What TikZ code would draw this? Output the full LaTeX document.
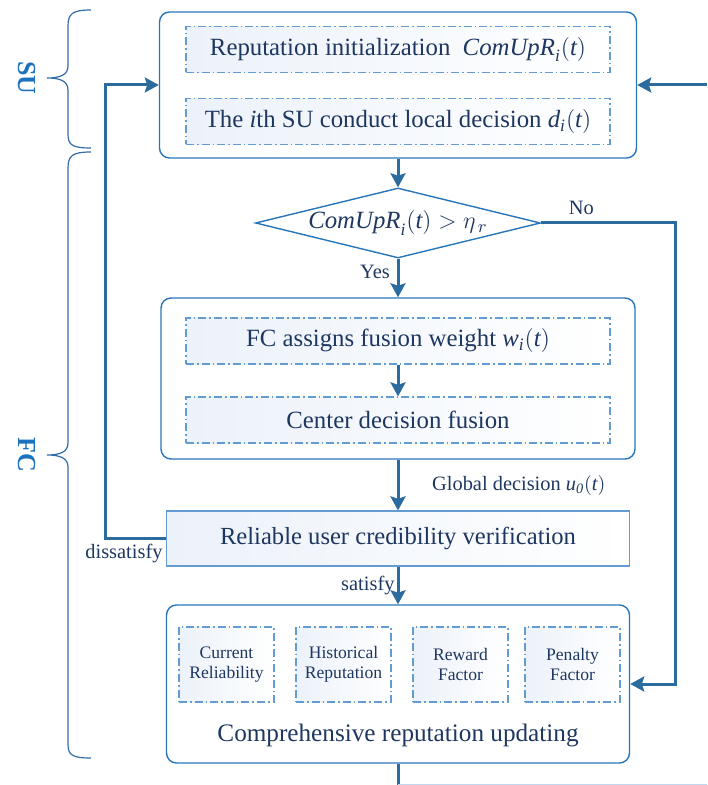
\documentclass[tikz,border=0pt]{standalone}
\usepackage{amsmath}
\usepackage{fontspec}
\setmainfont{Liberation Serif}
\usetikzlibrary{arrows,arrows.meta,shapes.geometric,positioning}

\definecolor{linec}{RGB}{44,107,158}
\definecolor{boxc}{RGB}{40,118,186}
\definecolor{dashc}{RGB}{98,156,210}
\definecolor{txtc}{RGB}{30,55,96}
\definecolor{fillc}{RGB}{236,242,250}
\definecolor{bracec}{RGB}{52,108,168}
\definecolor{groupc}{RGB}{28,114,190}

\newcommand{\mi}[1]{\mathit{#1}}

\tikzset{
  outerbox/.style={draw=boxc, line width=0.7pt, rounded corners=5pt},
  innerbox/.style={draw=dashc, line width=0.6pt, dash pattern=on 4pt off 1.5pt on 0.8pt off 1.5pt,
    left color=fillc, right color=white, minimum width=212pt, minimum height=23pt,
    text=txtc, font=\fontsize{12.4}{14}\selectfont},
  factorbox/.style={draw=dashc, line width=0.6pt, dash pattern=on 4pt off 1.5pt on 0.8pt off 1.5pt,
    left color=fillc, right color=white, minimum width=47.5pt, minimum height=37.5pt,
    text=txtc, align=center, font=\fontsize{8.8}{10}\selectfont},
  verifybox/.style={draw=dashc, line width=0.6pt, left color=fillc, right color=white,
    minimum width=231.5pt, minimum height=27.5pt, text=txtc, font=\fontsize{12.3}{14}\selectfont},
  cond/.style={diamond, draw=boxc, line width=0.7pt, aspect=4.07, inner sep=0pt,
    minimum width=142.5pt, minimum height=35pt, text=txtc, font=\fontsize{12.4}{14}\selectfont},
  flow/.style={draw=linec, line width=1.5pt, -{Stealth[length=7pt,width=7.5pt,inset=1.2pt]}},
  flowline/.style={draw=linec, line width=1.5pt},
  lbl/.style={text=txtc, font=\fontsize{10.2}{12}\selectfont},
  brc/.style={draw=bracec, line width=0.6pt},
  group/.style={text=groupc, font=\fontsize{13}{15}\selectfont\bfseries, rotate=-90}
}

\begin{document}
\begin{tikzpicture}[x=0.5pt,y=-0.5pt]
	\useasboundingbox (0,0) rectangle (707,785);
	\def\mx{398}
	% SU part
	\node[outerbox, minimum width=238.5pt, minimum height=73pt] (su) at (\mx,85) {};
	\node[innerbox] (init) at (\mx,49.5) {Reputation initialization\ \ $\mi{ComUpR}_{\mi{i}}(\mi{t})$};
	\node[innerbox] (local) at (\mx,121.5) {The \textit{i}th SU conduct local decision $\mi{d}_{\mi{i}}(\mi{t})$};
	% threshold check
	\node[cond] (cond) at (\mx,223) {$\mi{ComUpR}_{\mi{i}}(\mi{t}) > \eta_{\,r}$};
	% fusion
	\node[outerbox, minimum width=237pt, minimum height=80.5pt] (fusion) at (\mx,378.5) {};
	\node[innerbox] (weight) at (\mx,341) {FC assigns fusion weight $\mi{w}_{\mi{i}}(\mi{t})$};
	\node[innerbox] (center) at (\mx,420) {Center decision fusion};
	\node[verifybox] (verify) at (\mx,538.5) {Reliable user credibility verification};
	% updating
	\node[outerbox, minimum width=231.5pt, minimum height=79pt] (update) at (\mx,684) {};
	\foreach \xc/\txt [count=\k] in {226.5/{Current\\Reliability}, 343.5/{Historical\\Reputation},
		460.5/{Reward\\Factor}, 572.5/{Penalty\\Factor}}
		\node[factorbox] (f\k) at (\xc,664.5) {\txt};
	\node[text=txtc, font=\fontsize{12.6}{14}\selectfont] (updtxt) at (\mx,735) {Comprehensive reputation updating};
	% collegamenti
	\draw[flow] (su.south) -- (cond.north);
	\draw[flow] (cond.south) -- node[lbl, left, yshift=3pt] {Yes} (fusion.north);
	\draw[flow] (weight) -- (center);
	\draw[flow] (fusion.south) -- node[lbl, anchor=west, xshift=13pt] {Global decision $\mi{u}_{\mi{0}}(\mi{t})$} (verify.north);
	\draw[flow] (verify.south) -- node[lbl, left, inner sep=1pt] {satisfy} (update.north);
	\coordinate (noturn) at (675,223);
	\draw[flow] (cond.east) -- node[lbl, above, pos=0.3] {No} (noturn) |- (update.east);
	\draw[flow] (verify.west) -- ++(-60,0) |- (su.west);
	\node[lbl, anchor=south east, inner sep=1.5pt] (dis) at (verify.south west) {dissatisfy};
	\coordinate (back) at (707,85);
	\draw[flow] (back) -- (su.east);
	\coordinate (bottom) at (\mx,785);
	\draw[flowline] (update.south) -- (bottom);
	\draw[draw=dashc!40, line width=0.8pt] (bottom) -- ++(309,0);
	% braces
	\draw[brc] (91,10) .. controls (72,10) and (68,14) .. (68,26) -- (68,66)
		.. controls (68,75) and (60,78) .. (47,78) .. controls (60,78) and (68,81) .. (68,90)
		-- (68,134) .. controls (68,145) and (72,148) .. (91,148);
	\draw[brc] (91,152) .. controls (72,152) and (68,156) .. (68,168) -- (68,443)
		.. controls (68,452) and (60,455) .. (47,455) .. controls (60,455) and (68,458) .. (68,467)
		-- (68,744) .. controls (68,755) and (72,758) .. (91,758);
	\node[group] (sulbl) at (27,78) {SU};
	\node[group] (fclbl) at (27,455) {FC};
\end{tikzpicture}
\end{document}
